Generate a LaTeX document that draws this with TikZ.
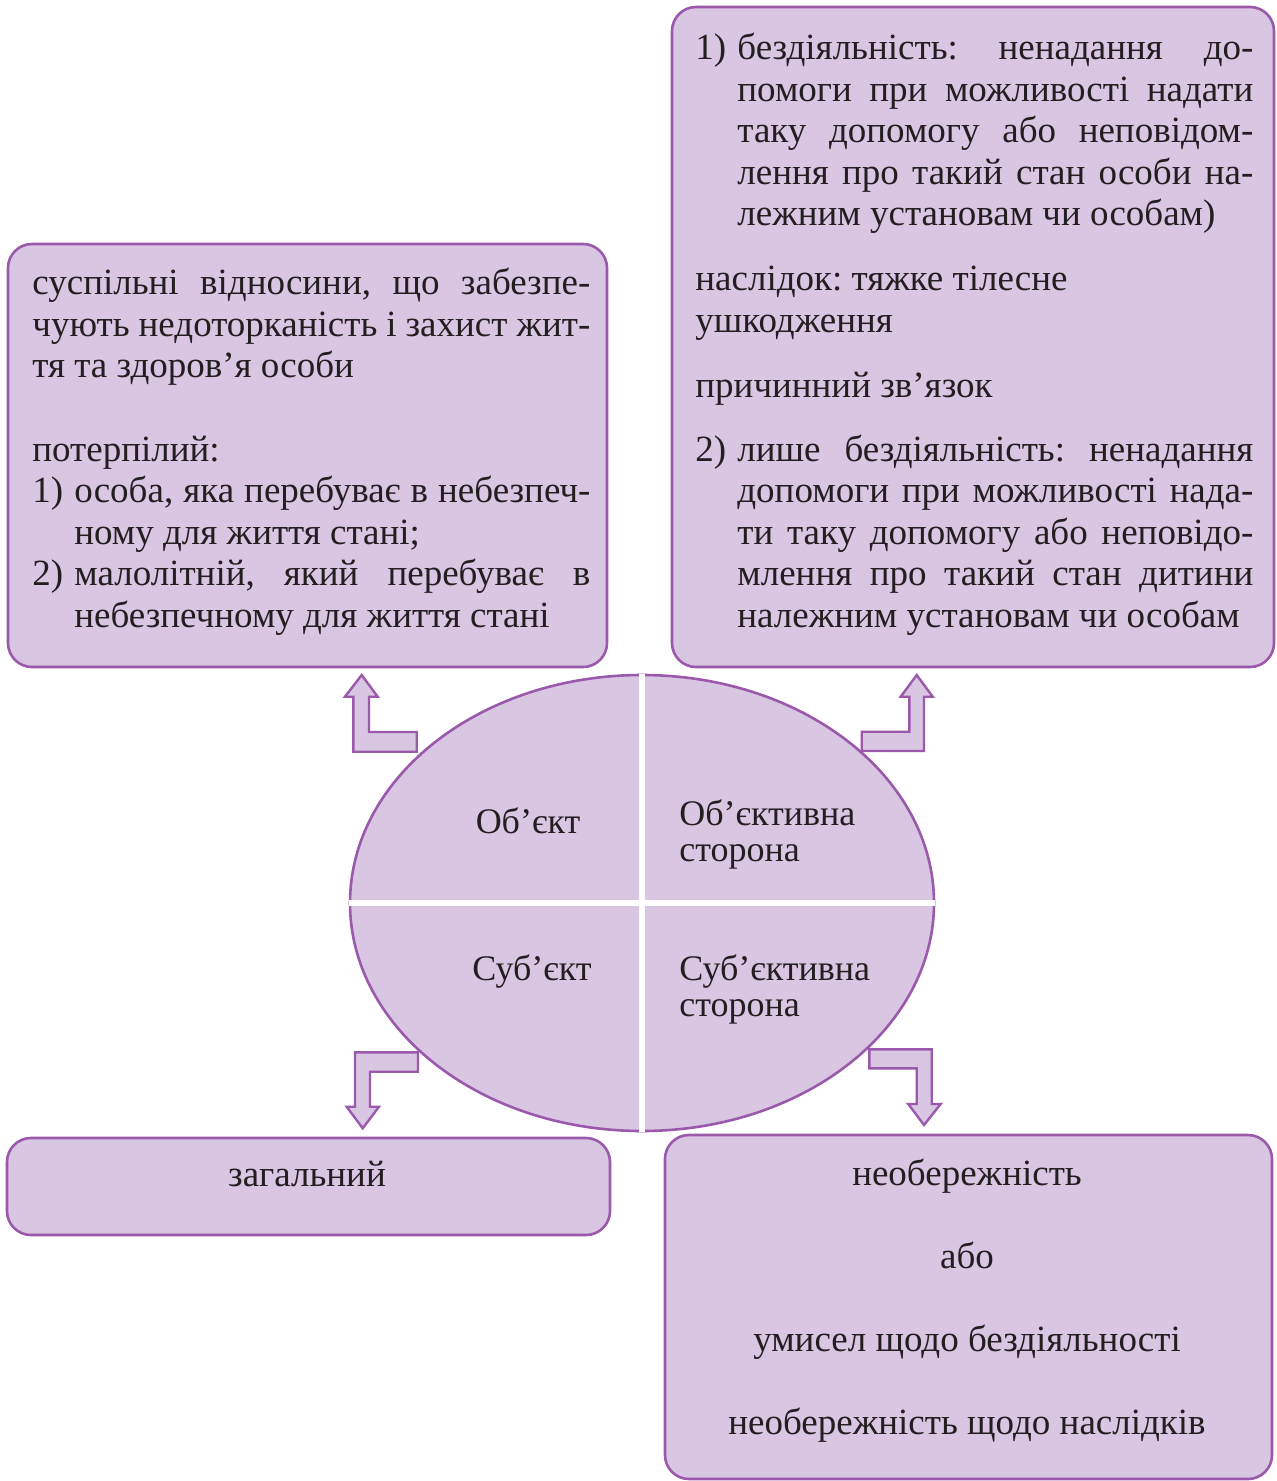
\documentclass[tikz,border=0pt]{standalone}
\usepackage{fontspec}
\setmainfont{Liberation Serif}
\usetikzlibrary{shapes.geometric}
\definecolor{boxfill}{RGB}{216,198,226}
\definecolor{boxline}{RGB}{155,89,171}
\definecolor{txtc}{RGB}{35,31,32}
\newcommand{\fs}{\fontsize{18.5pt}{20.75pt}\selectfont\frenchspacing}
\newcommand{\jl}[1]{\makebox[279pt][s]{#1}\\}
\newcommand{\nl}[2]{\makebox[21pt][l]{#1}\makebox[258pt][s]{#2}\\}
\newcommand{\il}[1]{\hspace*{21pt}\makebox[258pt][s]{#1}\\}
\begin{document}
\begin{tikzpicture}[x=0.5pt,y=-0.5pt,
  box/.style={draw=boxline, fill=boxfill, line width=1.3pt, rounded corners=12pt},
  barrow/.style={draw=boxline, fill=boxfill, line width=1.2pt, line join=miter},
  txt/.style={inner sep=0pt, text=txtc, font=\fs},
  divider/.style={draw=white, line width=3pt}]
\useasboundingbox (0,0) rectangle (1276,1481);

% boxes
\draw[box] (8,244) rectangle (607,667);
\draw[box] (672,7) rectangle (1274,667);
\draw[box] (7,1138) rectangle (610,1235);
\draw[box] (665,1135) rectangle (1272,1479);

% left top text
\node[txt, anchor=base west] (ltext) at (32,295) {\parbox[t]{279pt}{\fs
\jl{суспільні відносини, що забезпе-}
\jl{чують недоторканість і захист жит-}
тя та здоров’я особи\\
\mbox{}\\
потерпілий:\\
\nl{1)}{особа, яка перебуває в небезпеч-}
\hspace*{21pt}ному для життя стані;\\
\nl{2)}{малолітній, який перебуває в}
\hspace*{21pt}небезпечному для життя стані}};

% right top text
\node[txt, anchor=base west] (r1) at (695,60) {\parbox[t]{279pt}{\fs
\nl{1)}{бездіяльність: ненадання до-}
\il{помоги при можливості надати}
\il{таку допомогу або неповідом-}
\il{лення про такий стан особи на-}
\hspace*{21pt}лежним установам чи особам)}};
\node[txt, anchor=base west] (r2) at (695,291) {\parbox[t]{279pt}{\fs
наслідок: тяжке тілесне\\ушкодження}};
\node[txt, anchor=base west] (r3) at (695,397) {причинний зв’язок};
\node[txt, anchor=base west] (r4) at (695,461) {\parbox[t]{279pt}{\fs
\nl{2)}{лише бездіяльність: ненадання}
\il{допомоги при можливості нада-}
\il{ти таку допомогу або неповідо-}
\il{млення про такий стан дитини}
\hspace*{21pt}належним установам чи особам}};

% bottom texts
\node[txt, anchor=base] (gen) at (307,1186) {загальний};
\node[txt, anchor=base] (rb) at (967,1185) {\parbox[t]{290pt}{\fs\centering
необережність\\ \mbox{}\\ або\\ \mbox{}\\ умисел щодо бездіяльності\\ \mbox{}\\ необережність щодо наслідків}};

% ellipse
\node[ellipse, draw=boxline, fill=boxfill, line width=1.3pt, inner sep=0pt,
  minimum width=292pt, minimum height=228pt] (ell) at (642,903) {};
\draw[divider] (ell.north) -- (ell.south);
\draw[divider] (ell.west) -- (ell.east);

\node[txt, anchor=base, font=\fontsize{18pt}{18pt}\selectfont] (obj) at (528,833) {Об’єкт};
\node[txt, anchor=base west] (objside) at (679,825) {\parbox[t]{130pt}{\fontsize{18pt}{18pt}\selectfont Об’єктивна\\сторона}};
\node[txt, anchor=base, font=\fontsize{18pt}{18pt}\selectfont] (subj) at (532,980) {Суб’єкт};
\node[txt, anchor=base west] (subjside) at (679,980) {\parbox[t]{130pt}{\fontsize{18pt}{18pt}\selectfont Суб’єктивна\\сторона}};

% block arrows
\draw[barrow] (361.7,675) -- (377.7,696.7) -- (369,696.7) -- (369,732) -- (416.7,732)
  -- (416.7,751.7) -- (353.3,751.7) -- (353.3,696.7) -- (345,696.7) -- cycle;
\draw[barrow] (916.7,675) -- (932.7,696.7) -- (924,696.7) -- (924,751) -- (861.7,751)
  -- (861.7,731.7) -- (909.3,731.7) -- (909.3,696.7) -- (900.7,696.7) -- cycle;
\draw[barrow] (418,1052.3) -- (355,1052.3) -- (355,1106.7) -- (346.7,1106.7) -- (362.7,1128.3)
  -- (379,1106.7) -- (370,1106.7) -- (370,1071.7) -- (418,1071.7) -- cycle;
\draw[barrow] (869.3,1049.3) -- (931.7,1049.3) -- (931.7,1104) -- (940.7,1104) -- (924,1125)
  -- (908.3,1104) -- (916.7,1104) -- (916.7,1068.3) -- (869.3,1068.3) -- cycle;
\end{tikzpicture}
\end{document}
